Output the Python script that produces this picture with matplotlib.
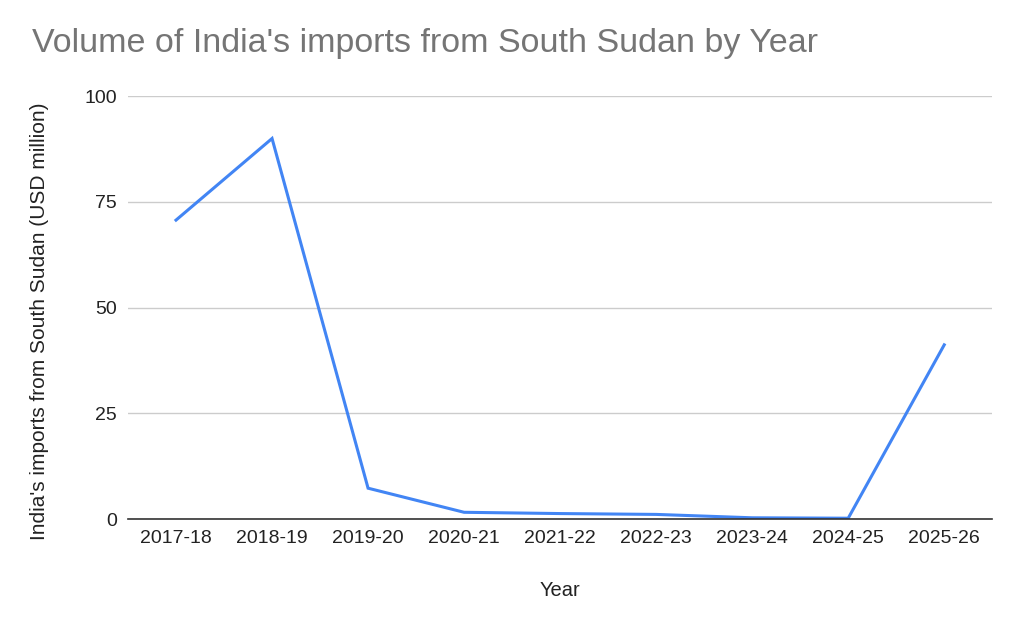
import matplotlib
matplotlib.use('Agg')
import matplotlib.pyplot as plt

years = ['2017-18', '2018-19', '2019-20', '2020-21', '2021-22',
         '2022-23', '2023-24', '2024-25', '2025-26']
imports_usd_mn = [70.7, 90.0, 7.3, 1.6, 1.3, 1.1, 0.3, 0.2, 41.2]
y_ticks = [0, 25, 50, 75, 100]

plt.rcParams['font.family'] = ['Liberation Sans', 'DejaVu Sans']

fig = plt.figure(figsize=(10.24, 6.33), dpi=100)
ax = fig.add_axes([0.125, 0.180, 0.844, 0.668])

x = list(range(len(years)))
ax.plot(x, imports_usd_mn, color='#4285F4', linewidth=2.2, solid_joinstyle='miter')

ax.set_xlim(-0.5, len(years) - 0.5)
ax.set_ylim(0, 100)
ax.set_yticks(y_ticks)
ax.set_xticks(x)
ax.set_xticklabels(years)
ax.tick_params(axis='both', length=0, labelsize=14, colors='#222222')
ax.tick_params(axis='y', pad=8)
ax.tick_params(axis='x', pad=8)

ax.grid(axis='y', color='#cccccc', linewidth=1)
ax.set_axisbelow(True)
for s in ['top', 'right', 'left']:
    ax.spines[s].set_visible(False)
ax.spines['bottom'].set_color('#333333')
ax.spines['bottom'].set_linewidth(1.2)
ax.spines['bottom'].set_zorder(3)

ax.set_xlabel('Year', fontsize=14.5, color='#222222', va='center')
ax.xaxis.set_label_coords(0.5, -0.168)
ax.set_ylabel("India's imports from South Sudan (USD million)", fontsize=15,
              color='#222222', va='center')
ax.yaxis.set_label_coords(-0.102, 0.468)

fig.text(0.031, 0.918, "Volume of India's imports from South Sudan by Year",
         fontsize=24.5, color='#757575', ha='left', va='baseline')

fig.savefig('out.png', dpi=100, facecolor='white')
